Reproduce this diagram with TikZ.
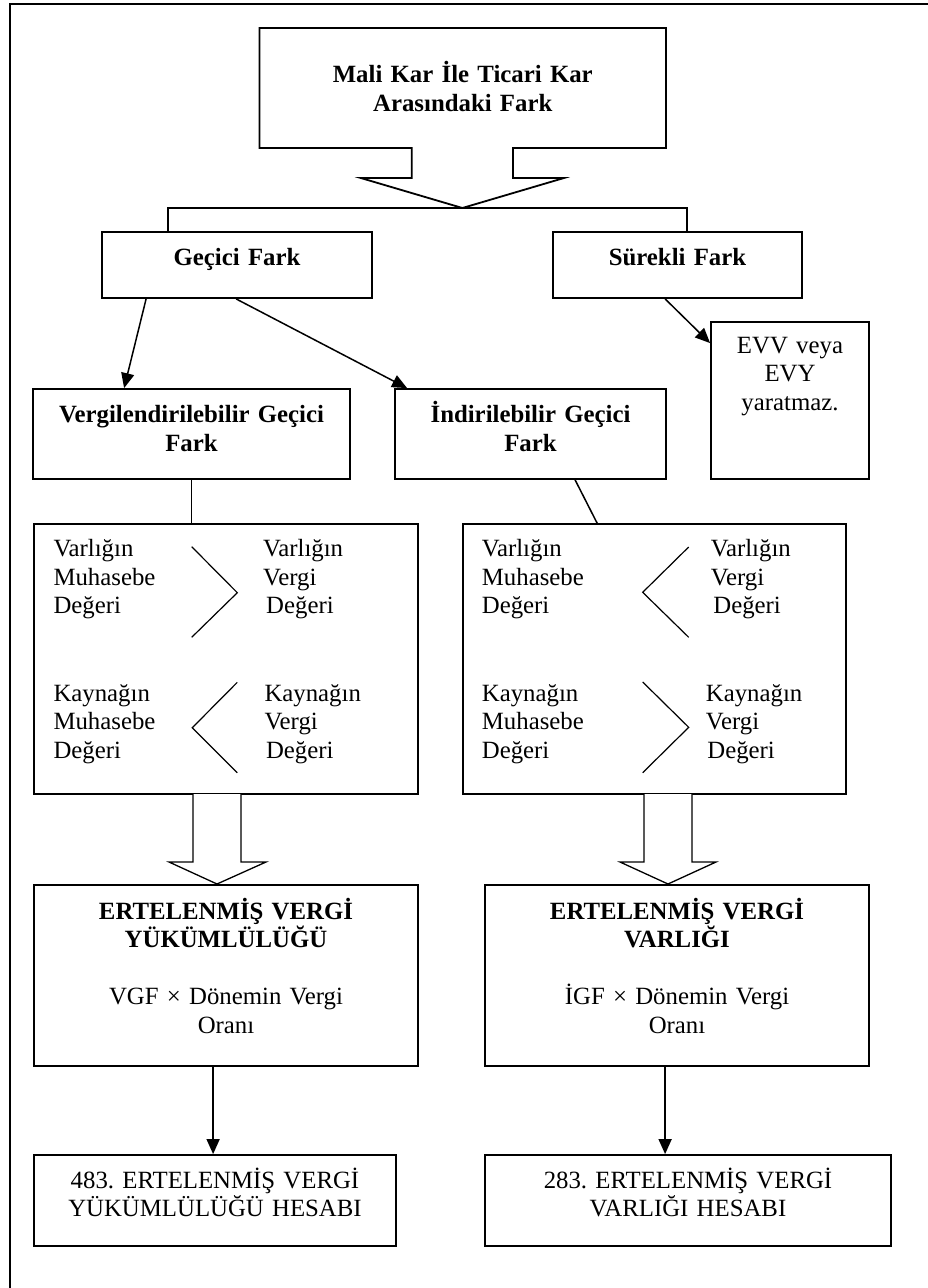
\documentclass[tikz,border=0pt]{standalone}
\usepackage{fontspec}
\setmainfont{Liberation Serif}
\usetikzlibrary{arrows.meta,calc}
\begin{document}
\frenchspacing
\begin{tikzpicture}[x=1pt,y=-1pt,
  box/.style={draw,line width=1.8pt,inner sep=0pt},
  conn/.style={line width=1.5pt},
  arr/.style={line width=1.5pt,-{Triangle[length=15pt,width=13pt]}},
  chev/.style={line width=1.2pt},
  barrow/.style={line width=1.3pt,fill=white},
  txt/.style={inner sep=0pt,font=\fontsize{24.8}{28.5}\selectfont\frenchspacing},
  ctxt/.style={txt,anchor=base,align=center,text width=#1},
  ltxt/.style={txt,anchor=base west,align=left,text width=150pt}]
\useasboundingbox (0,0) rectangle (928,1288);
% frame (only top and left edges visible)
\draw[line width=2pt] (10,1288) -- (10,4) -- (928,4);

% top callout box
\draw[line width=1.8pt] (259.5,28) -- (666,28) -- (666,148) -- (513,148) -- (513,178) -- (564,178)
  -- (462.4,208) -- (360.8,178) -- (411.8,178) -- (411.8,148) -- (259.5,148) -- cycle;
\coordinate (toptip) at (462.4,208);
\node[ctxt=400pt] (topT) at (462.75,82.7) {\textbf{Mali Kar İle Ticari Kar}\\\textbf{Arasındaki Fark}};

% second level
\node[box,minimum width=270pt,minimum height=66pt] (gecici) at (237,265) {};
\node[box,minimum width=249pt,minimum height=66pt] (surekli) at (677.5,265) {};
\node[ctxt=260pt] (geciciT) at (237,265) {\textbf{Geçici Fark}};
\node[ctxt=240pt] (surekliT) at (677.5,265) {\textbf{Sürekli Fark}};
\draw[conn] ($(gecici.north west)+(67,0)$) |- (toptip) -| ($(surekli.north west)+(135,0)$);

% third level
\node[box,minimum width=317pt,minimum height=90pt] (verg) at (191.5,434) {};
\node[box,minimum width=271pt,minimum height=90pt] (ind) at (530.5,434) {};
\node[box,minimum width=158pt,minimum height=157pt] (evv) at (790,400.5) {};
\node[ctxt=310pt] (vergT) at (191.5,422.7) {\textbf{Vergilendirilebilir Geçici}\\\textbf{Fark}};
\node[ctxt=265pt] (indT) at (530.5,422.7) {\textbf{İndirilebilir Geçici}\\\textbf{Fark}};
\node[ctxt=150pt] (evvT) at (790,353) {EVV veya\\EVY\\yaratmaz.};

\draw[arr] ($(gecici.south west)+(45,0)$) -- ($(verg.north west)+(92,0)$);
\draw[arr] ($(gecici.south west)+(135,0)$) -- ($(ind.north west)+(13,0)$);
\draw[arr] ($(surekli.south west)+(113,0)$) -- ($(evv.north west)+(0,22)$);

% comparison boxes
\node[box,minimum width=384pt,minimum height=270pt] (cmpL) at (226,659) {};
\node[box,minimum width=383pt,minimum height=270pt] (cmpR) at (654.5,659) {};
\draw[conn] (verg.south) -- (verg.south |- cmpL.north);
\draw[conn] ($(ind.south west)+(181,0)$) -- ($(cmpR.north west)+(135,0)$);

\node[ltxt] (l1) at (53.3,556.7) {Varlığın\\Muhasebe\\Değeri};
\node[ltxt] (l2) at (263,556.7) {Varlığın\\Vergi\\\hspace*{3pt}Değeri};
\node[ltxt] (l3) at (53.3,701) {Kaynağın\\Muhasebe\\Değeri};
\node[ltxt] (l4) at (264.3,701) {Kaynağın\\Vergi\\\hspace*{1.5pt}Değeri};
\draw[chev] (191.7,546.7) -- (237.3,592.7) -- (191.7,637.3);
\draw[chev] (237.3,682.3) -- (192.3,727.7) -- (237.3,772.7);

\node[ltxt] (r1) at (481.7,556.7) {Varlığın\\Muhasebe\\Değeri};
\node[ltxt] (r2) at (710.7,556.7) {Varlığın\\Vergi\\\hspace*{2.5pt}Değeri};
\node[ltxt] (r3) at (481.7,701) {Kaynağın\\Muhasebe\\Değeri};
\node[ltxt] (r4) at (705.7,701) {Kaynağın\\Vergi\\\hspace*{1.5pt}Değeri};
\draw[chev] (688.7,547) -- (642.7,592.3) -- (688.7,637.3);
\draw[chev] (642.7,682) -- (688.7,727.3) -- (642.7,772.7);

% block arrows
\draw[barrow] (193,794) -- (193,862) -- (169,862) -- (217,884) -- (266,862) -- (241,862) -- (241,794);
\draw[barrow] (644,794) -- (644,862) -- (620,862) -- (668,884) -- (716,862) -- (692,862) -- (692,794);

% deferred tax boxes
\node[box,minimum width=384pt,minimum height=181pt] (ertL) at (226,975.5) {};
\node[box,minimum width=384pt,minimum height=181pt] (ertR) at (677,975.5) {};
\node[ctxt=370pt] (ertLT) at (226,919) {\textbf{ERTELENMİŞ VERGİ}\\\textbf{YÜKÜMLÜLÜĞÜ}\\[28.5pt]VGF × Dönemin Vergi\\Oranı};
\node[ctxt=370pt] (ertRT) at (677,919) {\textbf{ERTELENMİŞ VERGİ}\\\textbf{VARLIĞI}\\[28.5pt]İGF × Dönemin Vergi\\Oranı};

% account boxes
\node[box,minimum width=362pt,minimum height=91pt] (hesL) at (215,1200.5) {};
\node[box,minimum width=406pt,minimum height=91pt] (hesR) at (688,1200.5) {};
\node[ctxt=355pt] (hesLT) at (215,1188) {483. ERTELENMİŞ VERGİ\\YÜKÜMLÜLÜĞÜ HESABI};
\node[ctxt=395pt] (hesRT) at (688,1188) {283. ERTELENMİŞ VERGİ\\VARLIĞI HESABI};

\draw[arr] ($(ertL.south west)+(180,0)$) -- ($(hesL.north west)+(180,0)$);
\draw[arr] ($(ertR.south west)+(181,0)$) -- ($(hesR.north west)+(181,0)$);
\end{tikzpicture}
\end{document}
